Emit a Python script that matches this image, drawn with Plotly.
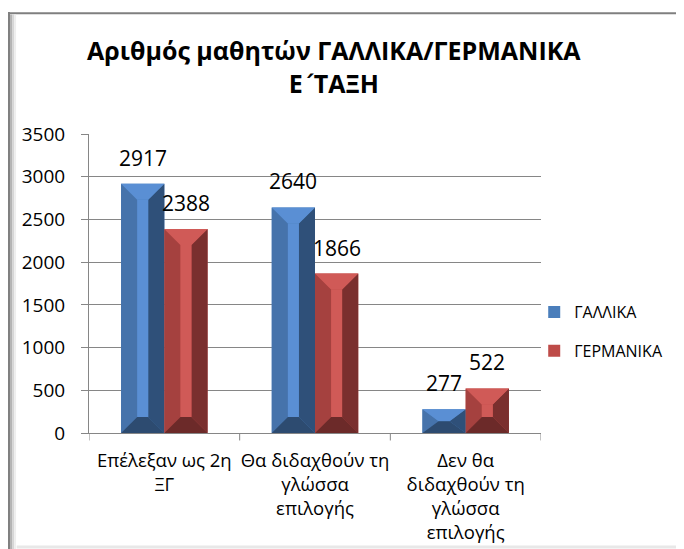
import plotly.graph_objects as go

categories = ["Επέλεξαν ως 2η<br>ΞΓ", "Θα διδαχθούν τη<br>γλώσσα<br>επιλογής", "Δεν θα<br>διδαχθούν τη<br>γλώσσα<br>επιλογής"]
series_names = ["ΓΑΛΛΙΚΑ", "ΓΕΡΜΑΝΙΚΑ"]
gallika = [2917, 2640, 277]
germanika = [2388, 1866, 522]
y_ticks = [0, 500, 1000, 1500, 2000, 2500, 3000, 3500]

# bevel palette per series: (left face, light top/center, right face, bottom)
palettes = [
    ("#4673ab", "#5a8fd4", "#2f5079", "#2d4b70"),
    ("#a5413f", "#d05a57", "#7a2f2e", "#6c2a29"),
]
legend_colors = ["#4a7ebb", "#be4b48"]

BAR_W = 0.287
BEV_X = 0.107
BEV_Y = 187.0

fig = go.Figure()
series = [gallika, germanika]
offsets = [-BAR_W, 0.0]
for s, (name, vals) in enumerate(zip(series_names, series)):
    fig.add_trace(go.Bar(
        x=list(range(len(categories))), y=vals, name=name,
        width=BAR_W, offset=offsets[s],
        marker=dict(color=legend_colors[s], line=dict(width=0)),
        legendgroup=name,
    ))

shapes = []
annotations = []
for s, vals in enumerate(series):
    left, light, right, bottom = palettes[s]
    for i, v in enumerate(vals):
        x0 = i + offsets[s]
        x1 = x0 + BAR_W
        by = min(BEV_Y, v / 2.0)
        xa = x0 + BEV_X
        xb = x1 - BEV_X
        polys = [
            ([(x0, 0), (x0, v), (xa, v - by), (xa, by)], left),
            ([(x1, 0), (x1, v), (xb, v - by), (xb, by)], right),
            ([(x0, v), (x1, v), (xb, v - by), (xa, v - by)], light),
            ([(x0, 0), (x1, 0), (xb, by), (xa, by)], bottom),
            ([(xa, by), (xb, by), (xb, v - by), (xa, v - by)], light),
        ]
        for pts, col in polys:
            path = "M " + " L ".join(f"{px},{py}" for px, py in pts) + " Z"
            shapes.append(dict(type="path", path=path, xref="x", yref="y",
                               fillcolor=col, line=dict(width=0), layer="above"))
        annotations.append(dict(x=(x0 + x1) / 2, y=v, xref="x", yref="y",
                                text=str(v), showarrow=False, yshift=26,
                                font=dict(size=21, color="#000000")))

# chart frame (Excel-like border with inner shadow), paper units relative to plot area
frame = [
    dict(type="line", xref="paper", yref="paper", x0=-0.179, x1=1.31, y0=1.404, y1=1.404,
         line=dict(color="#7f7f7f", width=2)),
    dict(type="line", xref="paper", yref="paper", x0=-0.177, x1=-0.177, y0=-0.45, y1=1.408,
         line=dict(color="#808080", width=2)),
    dict(type="line", xref="paper", yref="paper", x0=-0.1725, x1=-0.1725, y0=-0.45, y1=1.4,
         line=dict(color="#b4b4b4", width=2)),
    dict(type="line", xref="paper", yref="paper", x0=-0.168, x1=-0.168, y0=-0.45, y1=1.4,
         line=dict(color="#d6d6d6", width=2)),
    dict(type="line", xref="paper", yref="paper", x0=-0.1635, x1=-0.1635, y0=-0.45, y1=1.4,
         line=dict(color="#eeeeee", width=2)),
    dict(type="line", xref="paper", yref="paper", x0=1.3075, x1=1.3075, y0=-0.45, y1=1.37,
         line=dict(color="#e4e4e4", width=3)),
    dict(type="line", xref="paper", yref="paper", x0=-0.16, x1=1.31, y0=-0.381, y1=-0.381,
         line=dict(color="#e8e8e8", width=3)),
]

fig.update_layout(
    width=676, height=541,
    margin=dict(l=81, r=143, t=126, b=116, autoexpand=False),
    paper_bgcolor="white", plot_bgcolor="white",
    font=dict(family="Open Sans", color="#000000"),
    barmode="overlay",
    showlegend=True,
    title=dict(text="<b>Αριθμός μαθητών ΓΑΛΛΙΚΑ/ΓΕΡΜΑΝΙΚΑ<br>Ε<span style='font-family:DejaVu Sans'>΄</span>ΤΑΞΗ</b>",
               x=0.482, xanchor="center", y=0.903, yanchor="middle",
               font=dict(size=25, family="Open Sans", color="#000000")),
    legend=dict(x=0.985, xanchor="left", y=0.339, yanchor="middle",
                font=dict(size=16), tracegroupgap=15, traceorder="grouped",
                bgcolor="rgba(0,0,0,0)", itemclick=False),
    xaxis=dict(
        range=[-0.5, 2.5], tickmode="array", tickvals=[0, 1, 2], ticktext=categories,
        showgrid=False, zeroline=False, showline=True, linecolor="#868686", linewidth=1,
        ticks="", tickfont=dict(size=18.5), ticklabelstandoff=11, automargin=False,
    ),
    yaxis=dict(
        range=[0, 3500], tickvals=y_ticks, showgrid=True, gridcolor="#868686", gridwidth=1,
        zeroline=False, showline=True, linecolor="#868686", linewidth=1,
        ticks="outside", ticklen=7, tickcolor="#868686", tickfont=dict(size=19),
        ticklabelstandoff=12, automargin=False,
    ),
    shapes=shapes + frame,
    annotations=annotations,
)

# x-axis tick marks at category boundaries
for b in [-0.5, 0.5, 1.5, 2.5]:
    fig.add_shape(type="line", xref="x", yref="paper", x0=b, x1=b, y0=0, y1=-0.025,
                  line=dict(color="#868686", width=1))

fig.write_html("out.html")
